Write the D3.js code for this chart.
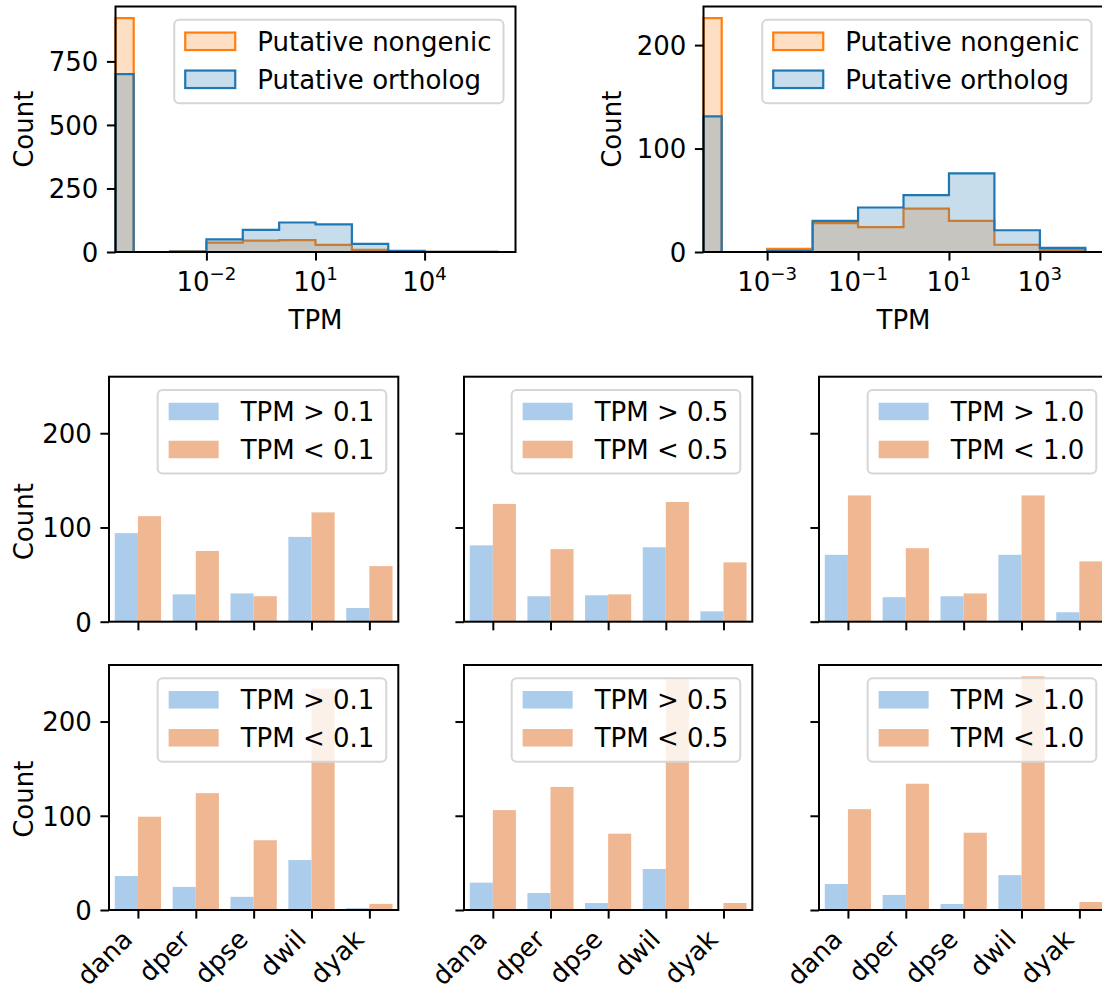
<!DOCTYPE html>
<html><head><meta charset="utf-8">
<script src="https://cdn.jsdelivr.net/npm/d3@7"></script>
<style>body{margin:0;background:#fff;overflow:hidden} svg text{font-family:"DejaVu Sans",sans-serif;fill:#000}</style>
</head><body><svg id="c" width="1102" height="991"></svg>
<script>
// ---------------- data ----------------
// top histograms: bin edges given as log10(TPM)
const histALogEdges = [-4.5,-4,-3,-2,-1,0,1,2,3,4,5,6];
const histANongenic = [920,0,3,37,45,47,28,8,2,1,1];
const histAOrtholog = [700,0,2,50,87,116,109,32,5,1,1];
const histBLogEdges = [-4.4,-4,-3,-2,-1,0,1,2,3,4];
const histBNongenic = [226,0,3,28,24,42,30,7,2];
const histBOrtholog = [131,0,1,30,43,55,76,21,4];
const histATicks = [-2,1,4];
const histBTicks = [-3,-1,1,3];
const histAYTicks = [0,250,500,750];
const histBYTicks = [0,100,200];
const histLabels = ["Putative nongenic","Putative ortholog"];

// bar panels
const species = ["dana","dper","dpse","dwil","dyak"];
const thresholds = ["0.1","0.5","1.0"];
const upperAbove = [[94,29,30,90,14.5],[81,27,28,79,11],[71,26,27,71,10]];
const upperBelow = [[112,75,27,116,59],[125,77,29,127,63],[134,78,30,134,64]];
const lowerAbove = [[36,24.5,14,53,2],[29,18,7.4,43.5,1],[27.6,16,6.4,37,0]];
const lowerBelow = [[99,124,74,235,6.5],[106,130.6,81,245,7.4],[107,134,82,248,8.5]];
const barYTicks = [0,100,200];
const barYMax = 260;

// ---------------- style ----------------
const FS = 26, TICK = 8.6, PAD = 8.6, SPINE = 2;
const C_ORANGE = "#ff7f0e", C_BLUE = "#1f77b4";
const BAR_BLUE = "#abccea", BAR_ORANGE = "#efb792";

const svg = d3.select("#c");

function spines(g, x0, y0, x1, y1) {
  g.append("rect").attr("x", x0).attr("y", y0).attr("width", x1 - x0).attr("height", y1 - y0)
    .attr("fill", "none").attr("stroke", "#000").attr("stroke-width", SPINE);
}

function yAxis(g, y, x0, ticks, showLabels) {
  const ax = g.append("g").attr("transform", `translate(${x0},0)`)
    .call(d3.axisLeft(y).tickValues(ticks).tickSize(TICK).tickPadding(PAD).tickSizeOuter(0)
      .tickFormat(showLabels ? d3.format("d") : () => ""));
  ax.select(".domain").remove();
  ax.selectAll(".tick line").attr("stroke", "#000").attr("stroke-width", SPINE);
  ax.selectAll(".tick text").attr("font-size", FS).attr("font-family", "DejaVu Sans")
    .attr("dy", "0.36em").attr("fill", "#000");
  return ax;
}

function xTickLines(g, x, y1, ticks) {
  const ax = g.append("g").attr("transform", `translate(0,${y1})`)
    .call(d3.axisBottom(x).tickValues(ticks).tickSize(TICK).tickSizeOuter(0).tickFormat(() => ""));
  ax.select(".domain").remove();
  ax.selectAll(".tick line").attr("stroke", "#000").attr("stroke-width", SPINE);
  return ax;
}

function yLabel(g, xBase, yc, txt) {
  g.append("text").attr("transform", `translate(${xBase},${yc}) rotate(-90)`)
    .attr("text-anchor", "middle").attr("font-size", FS).text(txt);
}

function legend(g, axRight, axTop, items) {
  const lg = g.append("g");
  const tmp = items.map(it => lg.append("text").attr("font-size", FS).text(it.label));
  const tw = d3.max(tmp, t => t.node().getComputedTextLength());
  tmp.forEach(t => t.remove());
  const w = tw + 95, h = 83.5;
  const right = axRight - 12, left = right - w, top = axTop + 13.3;
  lg.append("rect").attr("x", left).attr("y", top).attr("width", w).attr("height", h)
    .attr("rx", 5).attr("ry", 5).attr("fill", "#fff").attr("fill-opacity", 0.8)
    .attr("stroke", "#d6d6d6").attr("stroke-width", 2);
  items.forEach((it, i) => {
    const cy = top + 21.5 + i * 38;
    lg.append("rect").attr("x", left + 11).attr("y", cy - 8.75).attr("width", 50).attr("height", 17.5)
      .attr("fill", it.fill).attr("fill-opacity", it.fillOpacity)
      .attr("stroke", it.stroke || "none").attr("stroke-width", it.stroke ? 2.2 : 0);
    lg.append("text").attr("x", left + 83).attr("y", cy + 9.3).attr("font-size", FS).text(it.label);
  });
}

// ---------------- histograms ----------------
function drawHist(cfg) {
  const g = svg.append("g");
  const x = d3.scaleLog().domain([10 ** cfg.domain[0], 10 ** cfg.domain[1]]).range([cfg.x0, cfg.x1]);
  const y = d3.scaleLinear().domain([0, cfg.yMax]).range([cfg.y1, cfg.y0]);
  const pts = counts => {
    const e = cfg.edges, n = counts.length;
    const p = [{e: e[0], c: 0}];
    counts.forEach((c, i) => p.push({e: e[i], c}));
    p.push({e: e[n], c: counts[n - 1]});
    p.push({e: e[n], c: 0});
    return p;
  };
  const area = d3.area().x(d => x(10 ** d.e)).y0(y(0)).y1(d => y(d.c)).curve(d3.curveStepAfter);
  const line = d3.line().x(d => x(10 ** d.e)).y(d => y(d.c)).curve(d3.curveStepAfter);
  [[cfg.nong, C_ORANGE], [cfg.orth, C_BLUE]].forEach(([counts, col]) => {
    const p = pts(counts);
    g.append("path").attr("d", area(p)).attr("fill", col).attr("fill-opacity", 0.25);
    g.append("path").attr("d", line(p)).attr("fill", "none").attr("stroke", col).attr("stroke-width", 2.2)
      .attr("stroke-linejoin", "miter");
  });
  yAxis(g, y, cfg.x0, cfg.yTicks, true);
  xTickLines(g, x, cfg.y1, cfg.xTicks.map(t => 10 ** t));
  cfg.xTicks.forEach(t => {
    const tx = g.append("text").attr("x", x(10 ** t)).attr("y", cfg.y1 + 38.7)
      .attr("text-anchor", "middle").attr("font-size", FS);
    tx.append("tspan").text("10");
    tx.append("tspan").attr("dy", -10.9).attr("font-size", FS * 0.7).text((t < 0 ? "\u2212" : "") + Math.abs(t));
  });
  g.append("text").attr("x", (cfg.x0 + cfg.x1) / 2).attr("y", cfg.y1 + 76.5)
    .attr("text-anchor", "middle").attr("font-size", FS).text("TPM");
  yLabel(g, cfg.ylabX, (cfg.y0 + cfg.y1) / 2, "Count");
  spines(g, cfg.x0, cfg.y0, cfg.x1, cfg.y1);
  legend(g, cfg.x1, cfg.y0, [
    {label: histLabels[0], fill: C_ORANGE, fillOpacity: 0.25, stroke: C_ORANGE},
    {label: histLabels[1], fill: C_BLUE, fillOpacity: 0.25, stroke: C_BLUE}
  ]);
}

drawHist({x0: 115.5, x1: 515.5, y0: 6.5, y1: 252, domain: [-4.5, 6.5], edges: histALogEdges,
  nong: histANongenic, orth: histAOrtholog, yMax: 966, yTicks: histAYTicks, xTicks: histATicks, ylabX: 33});
drawHist({x0: 703.5, x1: 1103.5, y0: 6.5, y1: 252, domain: [-4.4, 4.4], edges: histBLogEdges,
  nong: histBNongenic, orth: histBOrtholog, yMax: 237.3, yTicks: histBYTicks, xTicks: histBTicks, ylabX: 621});

// ---------------- bar panels ----------------
const barCols = [{x0: 109, x1: 398.3}, {x0: 464, x1: 752.3}, {x0: 819, x1: 1108.3}];
const barRows = [{y0: 376.7, y1: 621.7, above: upperAbove, below: upperBelow, labY: 521.7},
                 {y0: 665, y1: 910, above: lowerAbove, below: lowerBelow, labY: 799.2}];

barRows.forEach((row, ri) => {
  barCols.forEach((col, ci) => {
    const g = svg.append("g");
    const x = d3.scaleLinear().domain([-0.5, species.length - 0.5]).range([col.x0, col.x1]);
    const y = d3.scaleLinear().domain([0, barYMax]).range([row.y1, row.y0]);
    const idx = species.map((s, i) => i);
    g.selectAll(".ba").data(idx).join("rect")
      .attr("x", i => x(i - 0.4)).attr("width", i => x(i) - x(i - 0.4))
      .attr("y", i => y(row.above[ci][i])).attr("height", i => y(0) - y(row.above[ci][i]))
      .attr("fill", BAR_BLUE);
    g.selectAll(".bb").data(idx).join("rect")
      .attr("x", i => x(i)).attr("width", i => x(i + 0.4) - x(i))
      .attr("y", i => y(row.below[ci][i])).attr("height", i => y(0) - y(row.below[ci][i]))
      .attr("fill", BAR_ORANGE);
    yAxis(g, y, col.x0, barYTicks, ci === 0);
    xTickLines(g, x, row.y1, idx);
    if (ri === 1) {
      idx.forEach(i => {
        g.append("text").attr("transform", `translate(${x(i) - 4},${row.y1 + 31})rotate(-45)`)
          .attr("text-anchor", "end").attr("font-size", FS).text(species[i]);
      });
    }
    if (ci === 0) yLabel(g, 33, row.labY, "Count");
    spines(g, col.x0, row.y0, col.x1, row.y1);
    legend(g, col.x1, row.y0, [
      {label: "TPM > " + thresholds[ci], fill: BAR_BLUE, fillOpacity: 1},
      {label: "TPM < " + thresholds[ci], fill: BAR_ORANGE, fillOpacity: 1}
    ]);
  });
});
</script></body></html>
